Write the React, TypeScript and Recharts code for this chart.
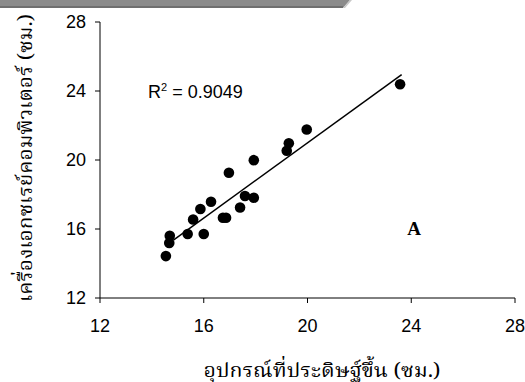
import React from "react";
import { ScatterChart, Scatter, XAxis, YAxis, Customized } from "recharts";

const deviceCm = [14.54, 14.67, 14.69, 15.38, 16.0, 15.59, 15.87, 16.28, 16.74, 16.86, 16.97, 17.4, 17.59, 17.93, 17.93, 19.2, 19.28, 19.97, 23.57];
const ctCm = [14.43, 15.19, 15.61, 15.71, 15.71, 16.55, 17.16, 17.58, 16.65, 16.65, 19.26, 17.25, 17.91, 17.81, 19.99, 20.54, 20.97, 21.77, 24.39];
const trendX = [14.83, 23.63];
const trendY = [15.36, 24.95];
const ticks = [12, 16, 20, 24, 28];
const xTitle = "อุปกรณ์ที่ประดิษฐ์ขึ้น (ซม.)";
const yTitle = "เครื่องเอกซเรย์คอมพิวเตอร์ (ซม.)";
const r2Label = "0.9049";
const panelLabel = "A";

const points = deviceCm.map((x, i) => ({ x, y: ctCm[i] }));
const trend = trendX.map((x, i) => ({ x, y: trendY[i] }));

const thaiFont = "'Noto Serif Thai', 'Noto Sans Thai Looped', 'Kinnari', 'Norasi', 'Laksaman', 'Noto Sans Thai', 'Loma', 'Garuda', serif";
const tickStyle = { fontFamily: "'Liberation Sans', Arial, sans-serif", fontSize: 18, fill: "#000" };

const Dot = (props: any) => <circle cx={props.cx} cy={props.cy} r={5.3} fill="#000" />;
const NoDot = () => null;

export default function App() {
  return (
    <div style={{ position: "absolute", left: 0, top: 0, width: 525, height: 382, background: "#fff", overflow: "hidden" }}>
      <ScatterChart
        width={525}
        height={382}
        margin={{ top: 22, right: 10, bottom: 54, left: 0 }}
      >
        <XAxis
          type="number"
          dataKey="x"
          domain={[12, 28]}
          ticks={ticks}
          height={30}
          tickSize={5}
          tickMargin={16}
          stroke="#000"
          tick={tickStyle}
          allowDataOverflow
        />
        <YAxis
          type="number"
          dataKey="y"
          domain={[12, 28]}
          ticks={ticks}
          width={100}
          tickSize={5}
          tickMargin={9}
          stroke="#000"
          tick={tickStyle}
          allowDataOverflow
        />
        <Scatter data={trend} line={{ stroke: "#000", strokeWidth: 1.5 }} shape={NoDot} isAnimationActive={false} />
        <Scatter data={points} shape={Dot} isAnimationActive={false} />
        <Customized
          component={() => (
            <g>
              <text x={148} y={98} style={{ fontFamily: "'Liberation Sans', Arial, sans-serif", fontSize: 18, fill: "#000" }}>
                R<tspan fontSize={11} dy={-7}>2</tspan>
                <tspan dy={7}>{" = " + r2Label}</tspan>
              </text>
              <text x={414} y={235} textAnchor="middle" style={{ fontFamily: "'Liberation Serif', 'Times New Roman', serif", fontSize: 19, fontWeight: "bold", fill: "#000" }}>
                {panelLabel}
              </text>
              <text x={322} y={377} textAnchor="middle" textLength={237} lengthAdjust="spacingAndGlyphs" style={{ fontFamily: thaiFont, fontSize: 20, fill: "#000" }}>
                {xTitle}
              </text>
              <text
                x={0}
                y={0}
                textAnchor="middle"
                textLength={288}
                lengthAdjust="spacingAndGlyphs"
                transform="translate(32,158) rotate(-90)"
                style={{ fontFamily: thaiFont, fontSize: 20, fill: "#000" }}
              >
                {yTitle}
              </text>
            </g>
          )}
        />
      </ScatterChart>
      <svg width={360} height={10} style={{ position: "absolute", left: 0, top: 0, zIndex: 5 }}>
        <polygon points="0,0 350,0 343,8 0,8" fill="#8b8b8b" />
        <rect x={0} y={6} width={343} height={2} fill="#6f6f6f" />
        <polygon points="343,8 350,0 352,0 345,8" fill="#c8c8c8" />
      </svg>
    </div>
  );
}
